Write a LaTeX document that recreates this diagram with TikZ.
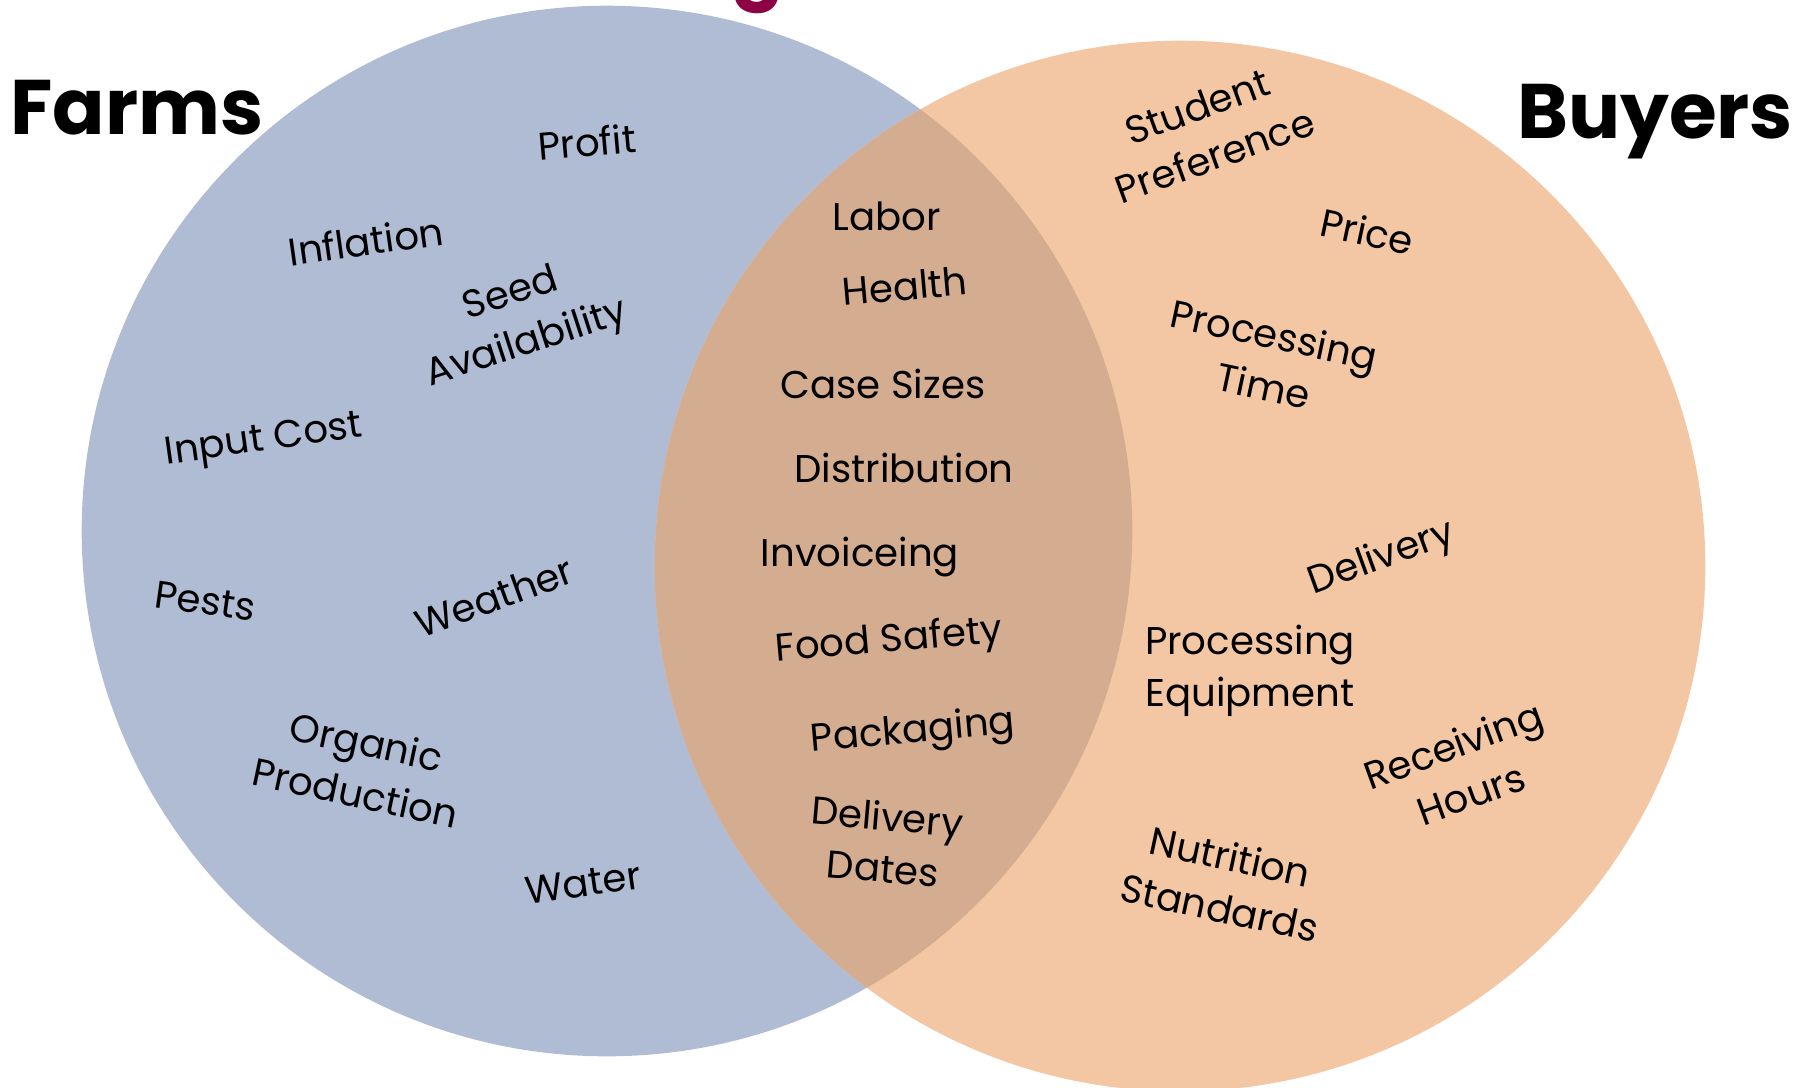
\documentclass[tikz,border=0pt]{standalone}
\usepackage{fontspec}
\setmainfont{Poppins}

\definecolor{farmblue}{HTML}{B0BCD4}
\definecolor{buyerorange}{HTML}{F3C7A4}
\definecolor{sharedtan}{HTML}{D4AC90}
\definecolor{titleberry}{HTML}{8C0045}

\begin{document}
\begin{tikzpicture}[x=0.01cm, y=-0.01cm,
    item/.style={align=center, inner sep=0pt, font=\fontsize{11}{14.8}\selectfont},
    side/.style={inner sep=0pt, font=\fontsize{22}{25}\selectfont\bfseries}]
  \useasboundingbox (0,0) rectangle (1815,1087);

  % the two sets and their overlap
  \fill[farmblue] (607,531) circle[radius=5.25cm];
  \fill[buyerorange] (1180,566) circle[radius=5.25cm];
  \begin{scope}
    \clip (607,531) circle[radius=5.25cm];
    \fill[sharedtan] (1180,566) circle[radius=5.25cm];
  \end{scope}

  % headings
  \node[side, text=titleberry, anchor=base] (topword) at (758,-8) {g};
  \node[side] (farms) at (137,108) {Farms};
  \node[side] (buyers) at (1655,122) {Buyers};

  % farms only
  \node[item, rotate=5]   (profit)    at (587,142) {Profit};
  \node[item, rotate=8]   (inflation) at (366,241) {Inflation};
  \node[item, rotate=18]  (seed)      at (519,320) {Seed\\Availability};
  \node[item, rotate=8]   (input)     at (264,442) {Input Cost};
  \node[item, rotate=-8]  (pests)     at (205,601) {Pests};
  \node[item, rotate=20]  (weather)   at (494,597) {Weather};
  \node[item, rotate=-12] (organic)   at (361,767) {Organic\\Production};
  \node[item, rotate=8]   (water)     at (583,883) {Water};

  % shared
  \node[item]             (labor)     at (887,216) {Labor};
  \node[item, rotate=5]   (health)    at (905,286) {Health};
  \node[item]             (cases)     at (883,384) {Case Sizes};
  \node[item]             (distrib)   at (904,468) {Distribution};
  \node[item]             (invoice)   at (860,557) {Invoiceing};
  \node[item, rotate=5]   (safety)    at (889,642) {Food Safety};
  \node[item, rotate=5]   (packing)   at (913,733) {Packaging};
  \node[item, rotate=-5]  (dates)     at (885,842) {Delivery\\Dates};

  % buyers only
  \node[item, rotate=20]  (student)   at (1206,131) {Student\\Preference};
  \node[item, rotate=-12] (price)     at (1367,231) {Price};
  \node[item, rotate=-12] (proctime)  at (1269,360) {Processing\\Time};
  \node[item, rotate=20]  (delivery)  at (1382,559) {Delivery};
  \node[item]             (equip)     at (1250,671) {Processing\\Equipment};
  \node[item, rotate=20]  (receiving) at (1462,769) {Receiving\\Hours};
  \node[item, rotate=-12] (nutrition) at (1225,882) {Nutrition\\Standards};
\end{tikzpicture}
\end{document}
